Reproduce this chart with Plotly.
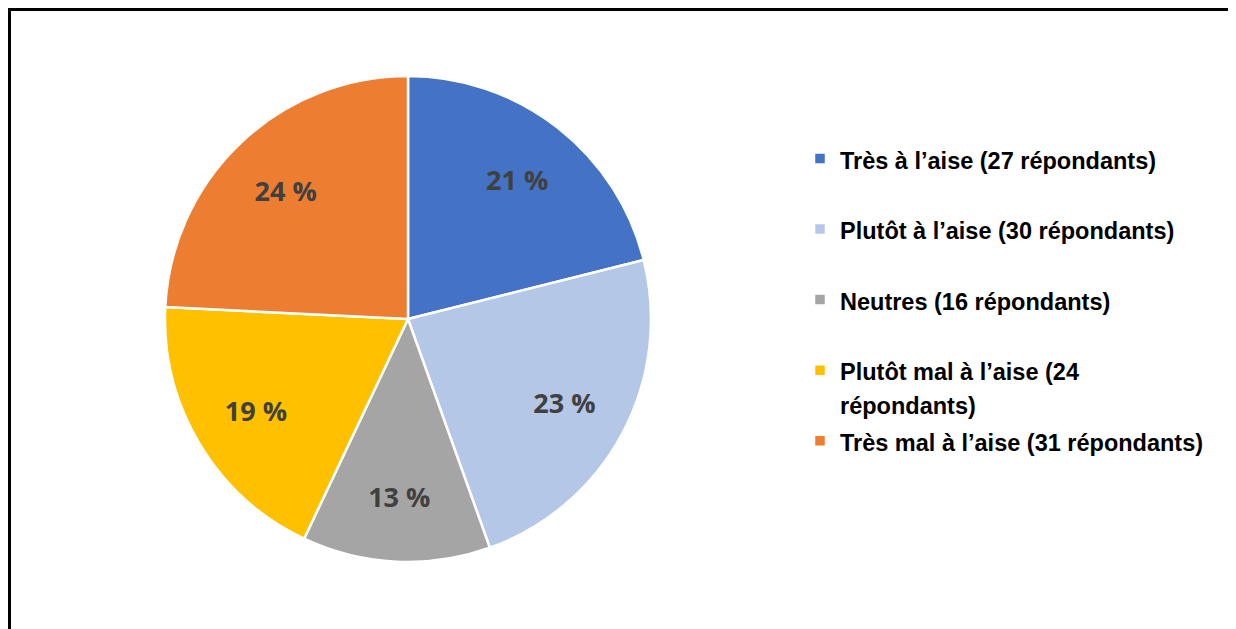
import math
import plotly.graph_objects as go

categories = ["Très à l’aise (27 répondants)",
              "Plutôt à l’aise (30 répondants)",
              "Neutres (16 répondants)",
              "Plutôt mal à l’aise (24<br>répondants)",
              "Très mal à l’aise (31 répondants)"]
respondents = [27, 30, 16, 24, 31]
colors = ["#4472C4", "#B4C7E7", "#A5A5A5", "#FFC000", "#ED7D31"]

total = sum(respondents)
pct_text = [f"{math.floor(v / total * 100 + 0.5)} %" for v in respondents]


def legend_label(c):
    lines = c.split("<br>")
    if len(lines) == 1:
        lines.append(" ")
    return "<br>".join(f"<span style='font-size:23.5px'>{ln}</span>" for ln in lines)


legend_labels = [legend_label(c) for c in categories]

W, H = 1228, 621
dom = dict(x=[157 / W, 643 / W], y=[1 - 554 / H, 1 - 68 / H])

fig = go.Figure()
# coloured pie (legend + slices)
fig.add_trace(go.Pie(
    labels=legend_labels,
    values=respondents,
    textinfo="none",
    sort=False,
    direction="clockwise",
    rotation=0,
    marker=dict(colors=colors, line=dict(color="white", width=2.5)),
    domain=dom,
    hoverinfo="value+percent",
))
# transparent ring carrying the percentage labels
fig.add_trace(go.Pie(
    labels=legend_labels,
    values=respondents,
    text=pct_text,
    textinfo="text",
    textposition="inside",
    insidetextorientation="horizontal",
    hole=0.46,
    sort=False,
    direction="clockwise",
    rotation=0,
    marker=dict(colors=["rgba(0,0,0,0)"] * len(respondents), line=dict(width=0)),
    textfont=dict(family="Open Sans", size=27, color="#404040", weight="bold"),
    domain=dom,
    showlegend=False,
    hoverinfo="skip",
))

fig.update_layout(
    width=W, height=H,
    margin=dict(l=0, r=0, t=0, b=0),
    paper_bgcolor="white",
    plot_bgcolor="white",
    showlegend=True,
    legend=dict(
        x=792 / W, y=1 - 127 / H, xanchor="left", yanchor="top",
        valign="top",
        font=dict(family="Liberation Sans, Arial", size=26, color="#000000", weight="bold"),
        bgcolor="rgba(0,0,0,0)",
    ),
    shapes=[dict(type="rect", xref="paper", yref="paper",
                 x0=1.5 / W, x1=1.02, y0=-0.05, y1=1 - 1.5 / H,
                 line=dict(color="black", width=3), fillcolor="rgba(0,0,0,0)")],
)

fig.write_html("out.html")
